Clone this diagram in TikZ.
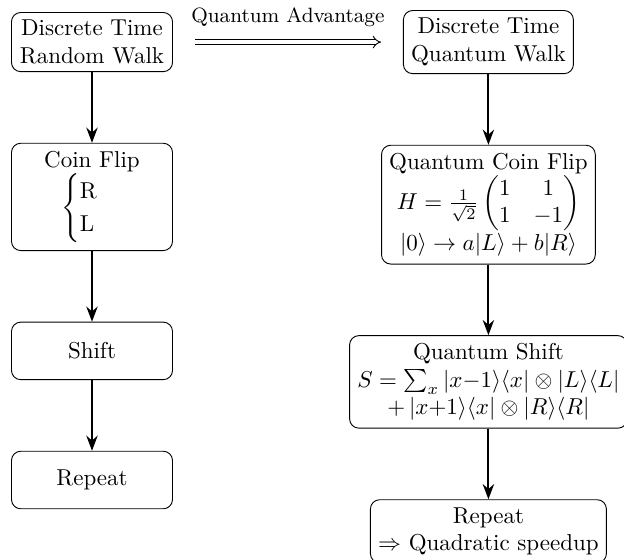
\documentclass[tikz,border=0pt]{standalone}
\usepackage{amsmath,amssymb}
\usepackage{tikz}
\usetikzlibrary{positioning,arrows.meta}

\begin{document}
\begin{tikzpicture}
            \tikzset{block/.style={draw, rounded corners, align=center, minimum width=70pt, minimum height=25pt},
                     flow/.style={-{Stealth}, thick}}
            
            \path[use as bounding box] (-40pt,18.3pt) rectangle (231.3pt,-224.8pt);
            
            % classical walk
            \node[block] (rw) at (0,0) {Discrete Time\\Random Walk};
            \node[block, below=1.08cm of rw] (coin) {Coin Flip\\ $\begin{cases}\text{R}\\ \text{L}\end{cases}$};
            \node[block, below=1.08cm of coin] (shift) {Shift};
            \node[block, below=1.08cm of shift] (repeat) {Repeat};
            
            % quantum walk
            \node[block, right=100pt of rw] (qw) {Discrete Time\\Quantum Walk};
            \node[block, below=1.08cm of qw] (qcoin) {Quantum Coin Flip\\
                $H=\frac{1}{\sqrt{2}}\begin{pmatrix}1 & 1\\ 1 & -1\end{pmatrix}$\\
                $|0\rangle\to a|L\rangle+b|R\rangle$};
            \node[block, below=1.08cm of qcoin] (qshift) {Quantum Shift\\
                $S=\sum_x |x{-}1\rangle\langle x|\otimes|L\rangle\langle L|$\\
                $+\,|x{+}1\rangle\langle x|\otimes|R\rangle\langle R|$};
            \node[block, below=1.08cm of qshift] (qrepeat) {Repeat\\ $\Rightarrow$ Quadratic speedup};
            
            \draw[flow] (rw) -- (coin);
            \draw[flow] (coin) -- (shift);
            \draw[flow] (shift) -- (repeat);
            \draw[flow] (qw) -- (qcoin);
            \draw[flow] (qcoin) -- (qshift);
            \draw[flow] (qshift) -- (qrepeat);
            
            \draw[-Implies, line width=0.4pt, double=white, double distance=1.5pt, shorten <=9.5pt, shorten >=9.5pt] (rw) -- (qw)
                node[midway, above=3pt, font=\small] {Quantum Advantage};
\end{tikzpicture}
\end{document}
